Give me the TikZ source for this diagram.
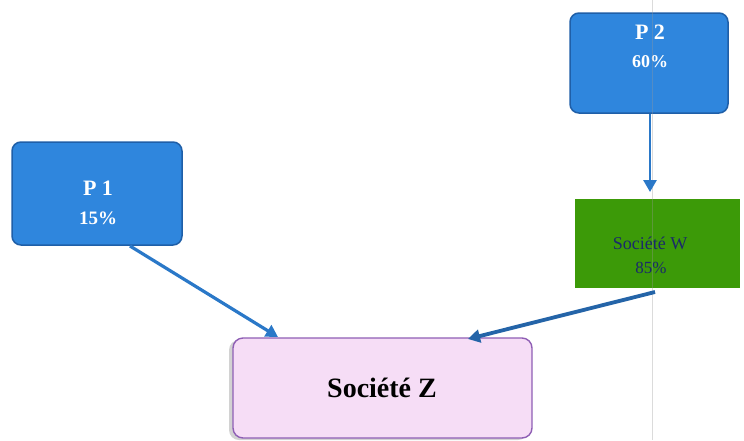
\documentclass[tikz,border=0pt]{standalone}
\usepackage{fontspec}
\setmainfont{Liberation Serif}
\usetikzlibrary{arrows.meta,shadows}
\definecolor{boxblue}{HTML}{2F86DD}
\definecolor{boxblueline}{HTML}{1F5FA8}
\definecolor{arrowblue}{HTML}{2A78C8}
\definecolor{arrowdark}{HTML}{2464A8}
\definecolor{boxgreen}{HTML}{3C9A08}
\definecolor{pinkfill}{HTML}{F6DDF6}
\definecolor{pinkline}{HTML}{8F5FB5}
\definecolor{navytext}{HTML}{1A2A6A}
\tikzset{
  bluebox/.style={draw=boxblueline, line width=1.5pt, fill=boxblue, rounded corners=9pt,
    text=white, font=\bfseries, align=center, inner sep=0pt},
  greenbox/.style={draw=white, line width=1pt, fill=boxgreen, text=navytext,
    align=center, inner sep=0pt, drop shadow={shadow xshift=1pt, shadow yshift=-1pt, opacity=0.3}},
  pinkbox/.style={draw=pinkline, line width=1.4pt, fill=pinkfill, rounded corners=10pt,
    align=center, inner sep=0pt, drop shadow={shadow xshift=-4pt, shadow yshift=-2pt, opacity=0.35}},
  link/.style={draw=arrowblue, line width=3.2pt, -{Triangle[length=12pt,width=13pt]}},
}
\begin{document}
\begin{tikzpicture}[x=1pt,y=-1pt]
\useasboundingbox (0,0) rectangle (744,440);
\fill[white] (0,0) rectangle (744,440);
\node[bluebox, minimum width=170pt, minimum height=103pt] (p1) at (97,193.5) {};
\node[font=\bfseries\fontsize{22}{24}\selectfont, text=white] (p1t) at (98,188) {P 1};
\node[font=\bfseries\fontsize{19}{21}\selectfont, text=white] (p1v) at (98,218) {15\%};
\node[bluebox, minimum width=158pt, minimum height=100pt] (p2) at (649,63) {};
\node[font=\bfseries\fontsize{22}{24}\selectfont, text=white] (p2t) at (650,32) {P 2};
\node[font=\bfseries\fontsize{18}{20}\selectfont, text=white] (p2v) at (650,62) {60\%};
\node[greenbox, minimum width=166pt, minimum height=90pt] (w) at (657,243) {};
\node[font=\fontsize{18}{20}\selectfont, text=navytext] (wt) at (650,243) {Société W};
\node[font=\fontsize{17}{19}\selectfont, text=navytext] (wv) at (651,268) {85\%};
\node[pinkbox, minimum width=299pt, minimum height=100pt] (z) at (382.5,388) {};
\node[font=\bfseries\fontsize{28}{30}\selectfont] (zt) at (382,388) {Société Z};
% faint guide line
\draw[black!40, opacity=0.35, line width=0.7pt] (652,0) -- (652,440);
\coordinate (p1s) at (130,246);
\coordinate (zl) at (278,337);
\coordinate (p2s) at (650,114);
\coordinate (wtop) at (650,192);
\coordinate (ws) at (655,292);
\coordinate (zr) at (468,339);
\draw[link] (p1s) -- (zl);
\draw[link, line width=2.8pt] (p2s) -- (wtop);
\draw[link, draw=arrowdark, line width=3.8pt] (ws) -- (zr);
\end{tikzpicture}
\end{document}
